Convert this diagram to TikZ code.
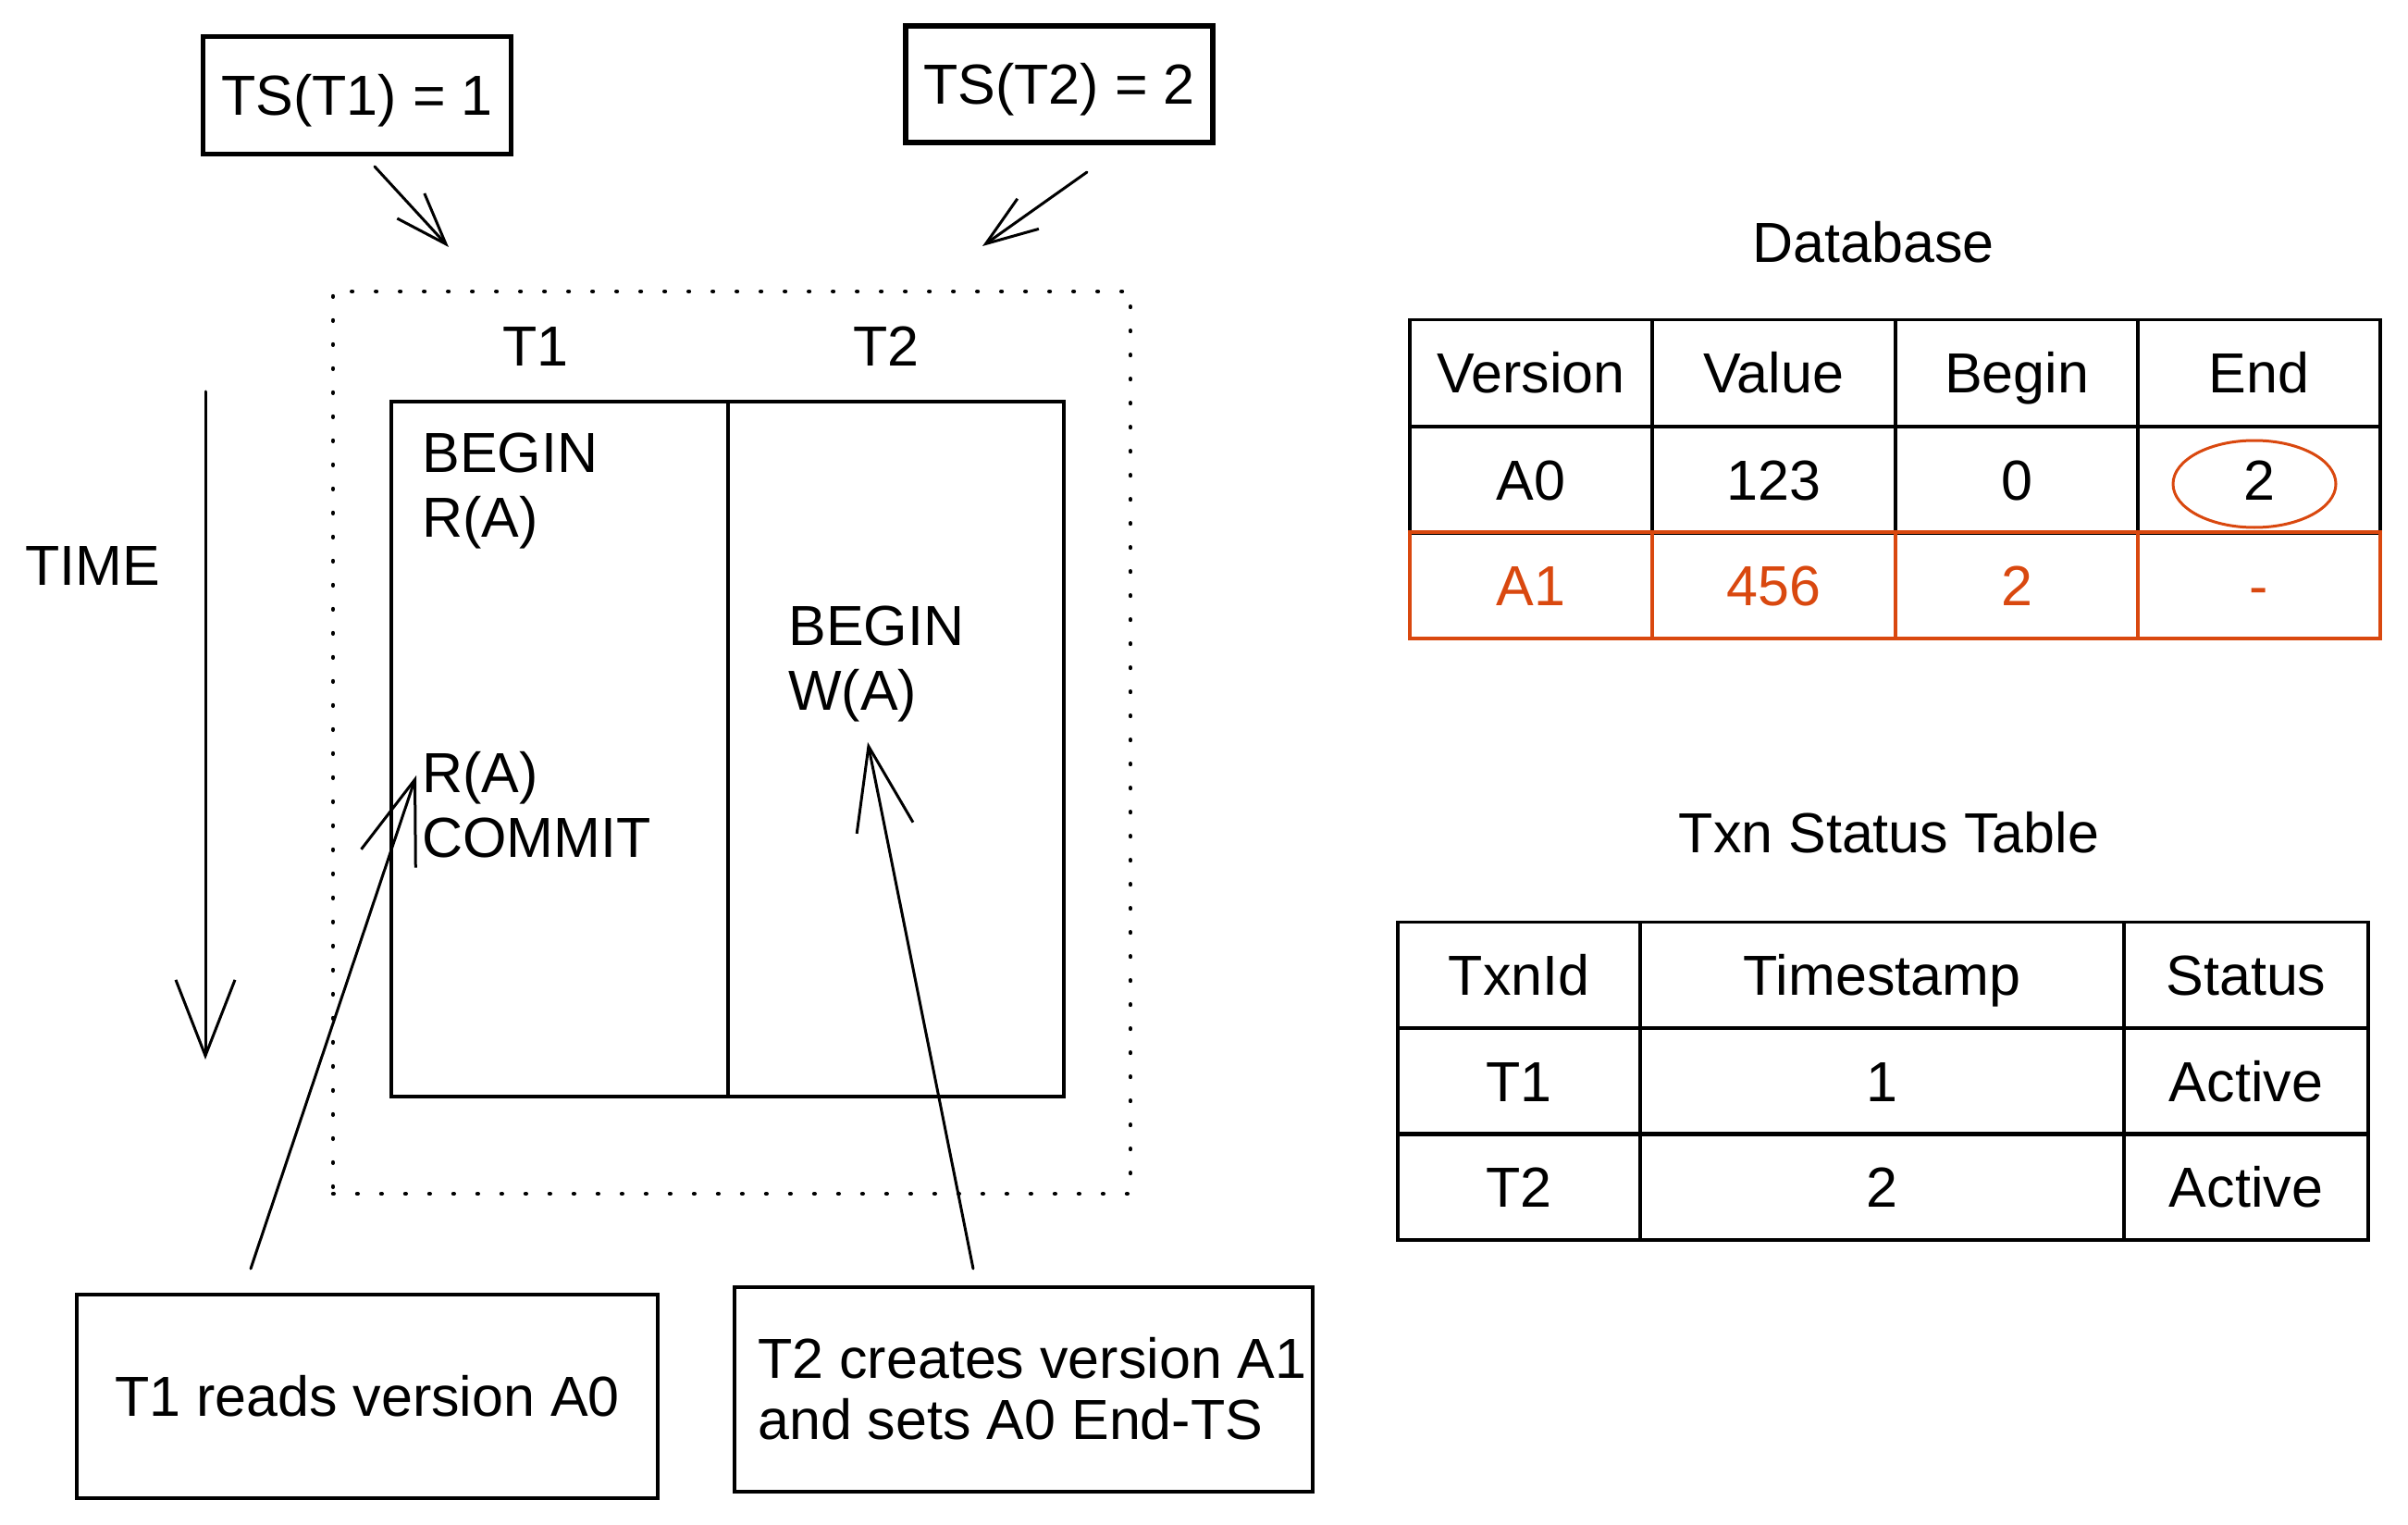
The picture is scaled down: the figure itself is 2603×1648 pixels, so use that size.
\documentclass[tikz,border=0pt]{standalone}
\usepackage{fontspec}
\setmainfont{Liberation Sans}
\usetikzlibrary{arrows.meta,shapes.geometric}
\definecolor{exorange}{HTML}{D9480F}
\begin{document}
\begin{tikzpicture}[x=0.5pt,y=-0.5pt,
  every node/.style={font=\fontsize{30.5}{35}\selectfont, inner sep=0pt},
  oneline/.style={text height=24pt, text depth=2.2pt},
  box/.style={draw, line width=2pt},
  tsbox/.style={draw, line width=2.6pt, oneline},
  cell/.style={draw, line width=1.8pt, minimum height=57.5pt, oneline},
  ocell/.style={cell, draw=exorange, text=exorange},
  conn/.style={line width=1.5pt, line cap=round, line join=round},
  smallhead/.style={-{Straight Barb[length=28pt,width=20pt,line width=1.5pt]}},
  bighead/.style={-{Straight Barb[length=45pt,width=31pt,line width=1.5pt]}},
  dotframe/.style={draw, line width=2.2pt, line cap=round, dash pattern=on 0.4pt off 12.6pt}
]
\useasboundingbox (0,0) rectangle (2603,1648);

% timestamp boxes
\node[tsbox, minimum width=166.5pt, minimum height=63.5pt] (ts1) at (386,103) {TS(T1) = 1};
\node[tsbox, minimum width=166pt, minimum height=63pt] (ts2) at (1145,91) {TS(T2) = 2};
\coordinate (a1s) at (405,180);
\coordinate (a1e) at (485,267);
\coordinate (a2s) at (1175,186);
\coordinate (a2e) at (1062,266);
\draw[conn, smallhead] (a1s) -- (a1e);
\draw[conn, smallhead] (a2s) -- (a2e);

% dotted frame
\node[dotframe, minimum width=431pt, minimum height=487.5pt] (frame) at (791,802.5) {};

% transaction columns
\node[box, minimum width=182pt, minimum height=375.5pt] (t1box) at (605,809.5) {};
\node[box, minimum width=181.5pt, minimum height=375.5pt] (t2box) at (968.5,809.5) {};
\node[oneline] (t1lab) at (579,374) {T1};
\node[oneline] (t2lab) at (958,374) {T2};
\node[anchor=west, align=left] (t1ops1) at (456,531) {BEGIN\\R(A)};
\node[anchor=west, align=left] (t2ops) at (852,718) {BEGIN\\W(A)};
\node[anchor=west, align=left] (t1ops2) at (456,870) {R(A)\\COMMIT};

% time axis
\node[oneline] (time) at (100,611) {TIME};
\coordinate (tas) at (222,423);
\coordinate (tae) at (222,1145);
\draw[conn, -{Straight Barb[length=41pt,width=32pt,line width=1.5pt]}] (tas) -- (tae);

% notes
\node[box, oneline, minimum width=314pt, minimum height=110pt] (note1) at (397,1509) {T1 reads version A0};
\node[box, minimum width=312.5pt, minimum height=110.5pt, align=left, font=\fontsize{30.5}{33}\selectfont] (note2) at (1106,1501) {\hspace*{10pt}T2 creates version A1\\\hspace*{10pt}and sets A0 End-TS};
\coordinate (n1s) at (271,1371);
\coordinate (n1e) at (450,838);
\coordinate (n2s) at (1052,1371);
\coordinate (n2e) at (938,802);
\draw[conn, bighead] (n1s) -- (n1e);
\draw[conn, bighead] (n2s) -- (n2e);

% database table
\node[oneline] (dbtitle) at (2025,262) {Database};
\node[cell, minimum width=131pt] (dbh1) at (1655,403) {Version};
\node[cell, minimum width=131pt] (dbh2) at (1917.5,403) {Value};
\node[cell, minimum width=131pt] (dbh3) at (2180,403) {Begin};
\node[cell, minimum width=131pt] (dbh4) at (2442,403) {End};
\node[cell, minimum width=131pt] (dba1) at (1655,518.5) {A0};
\node[cell, minimum width=131pt] (dba2) at (1917.5,518.5) {123};
\node[cell, minimum width=131pt] (dba3) at (2180,518.5) {0};
\node[cell, minimum width=131pt] (dba4) at (2442,518.5) {2};
\node[ocell, minimum width=131pt] (dbb1) at (1655,632.5) {A1};
\node[ocell, minimum width=131pt] (dbb2) at (1917.5,632.5) {456};
\node[ocell, minimum width=131pt] (dbb3) at (2180,632.5) {2};
\node[ocell, minimum width=131pt] (dbb4) at (2442,632.5) {-};
\node[ellipse, draw=exorange, line width=1.5pt, minimum width=88pt, minimum height=47pt] (endcirc) at (2437,523) {};

% txn status table
\node[oneline] (txtitle) at (2042,900) {Txn Status Table};
\node[cell, minimum width=131pt] (txh1) at (1642,1054) {TxnId};
\node[cell, minimum width=261.5pt] (txh2) at (2034.5,1054) {Timestamp};
\node[cell, minimum width=132pt] (txh3) at (2428,1054) {Status};
\node[cell, minimum width=131pt] (txa1) at (1642,1168.5) {T1};
\node[cell, minimum width=261.5pt] (txa2) at (2034.5,1168.5) {1};
\node[cell, minimum width=132pt] (txa3) at (2428,1168.5) {Active};
\node[cell, minimum width=131pt] (txb1) at (1642,1282.5) {T2};
\node[cell, minimum width=261.5pt] (txb2) at (2034.5,1282.5) {2};
\node[cell, minimum width=132pt] (txb3) at (2428,1282.5) {Active};
\end{tikzpicture}
\end{document}
